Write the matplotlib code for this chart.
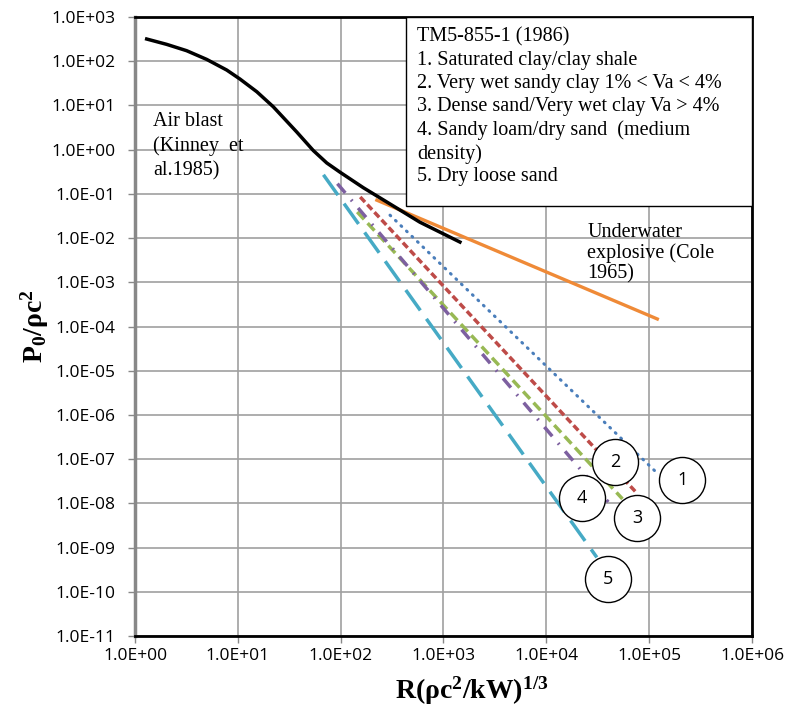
import numpy as np
import matplotlib
matplotlib.use('Agg')
from matplotlib import pyplot as plt
from matplotlib.patches import Rectangle

# 空气爆炸曲线 (Kinney et al. 1985)
air_R = [1.30, 2.03, 3.18, 4.98, 7.80, 10.5, 15.3, 22.1, 37.4, 54.2, 73.3, 98.6, 166, 380, 589, 1445]
air_P = [318, 241, 173, 110, 63.2, 39.5, 20.4, 9.35, 2.51, 0.955, 0.50, 0.309, 0.138, 0.0427, 0.0229, 0.00813]

# 水下爆炸 (Cole 1965)
water_R = [225, 1.2e5]
water_P = [0.072, 1.48e-4]

# TM5-855-1 (1986) 五类土
soil_names = ['1', '2', '3', '4', '5']
soil_R = [[302, 1.2e5], [155, 7.6e4], [145, 5.5e4], [93, 4.0e4], [68, 3.1e4]]
soil_P = [[0.033, 4.8e-8], [0.085, 1.7e-8], [0.039, 1.26e-8], [0.17, 1.07e-8], [0.27, 6.0e-10]]
# 圆圈编号位置
tag_R = [2.1e5, 4.7e4, 7.6e4, 2.2e4, 4.0e4]
tag_P = [3.4e-8, 8.5e-8, 4.7e-9, 1.3e-8, 1.9e-10]

legend_lines = ['TM5-855-1 (1986)',
                '1. Saturated clay/clay shale',
                '2. Very wet sandy clay 1% < Va < 4%',
                '3. Dense sand/Very wet clay Va > 4%',
                '4. Sandy loam/dry sand  (medium',
                'density)',
                '5. Dry loose sand']
legend_y = [0.9685, 0.929, 0.892, 0.855, 0.818, 0.779, 0.743]

x_ticks = [1e0, 1e1, 1e2, 1e3, 1e4, 1e5, 1e6]
y_ticks = [10.0 ** k for k in range(-11, 4)]

plt.rcParams['mathtext.fontset'] = 'custom'
plt.rcParams['mathtext.rm'] = 'Liberation Serif'
plt.rcParams['mathtext.bf'] = 'Liberation Serif:bold'

fig = plt.figure(figsize=(7.88, 7.15), dpi=100)
ax = fig.add_axes([0.1713, 0.1105, 0.7830, 0.8657])
ax.set_xscale('log')
ax.set_yscale('log')
ax.set_xlim(1, 1e6)
ax.set_ylim(1e-11, 1e3)

colors = ['#4a7ebb', '#be4b48', '#98b954', '#7d60a0', '#46aac5']
styles = [(0, (0.3, 2.2)), (0, (2.0, 1.0)), (0, (2.9, 1.5)), (0, (3.5, 2.6, 0.5, 2.6)), (0, (7.2, 3.0))]
widths = [2.2, 2.5, 2.5, 2.5, 2.5]
for i in range(5):
    ax.plot(soil_R[i], soil_P[i], color=colors[i], linestyle=styles[i], lw=widths[i],
            dash_capstyle='round' if i == 0 else 'butt', zorder=3)

ax.plot(water_R, water_P, color='#ef8a37', lw=2.4, zorder=4)
ax.plot(air_R, air_P, color='black', lw=2.5, zorder=5, solid_joinstyle='round')

# 圆圈编号
ax.scatter(tag_R, tag_P, s=1100, facecolor='white', edgecolor='black', lw=1, zorder=6)
for i in range(5):
    ax.text(tag_R[i], tag_P[i], soil_names[i], ha='center', va='center', fontsize=13,
            family='Open Sans', zorder=7)

ax.set_xticks(x_ticks)
ax.set_yticks(y_ticks)
ax.minorticks_off()
ax.set_xticklabels(['%.1E' % v for v in x_ticks], family='Open Sans', fontsize=12.5)
ax.set_yticklabels(['%.1E' % v for v in y_ticks], family='Open Sans', fontsize=12.5)
ax.tick_params(direction='out', length=5, color='#888888', width=1)
ax.tick_params(axis='x', pad=4)
ax.tick_params(axis='y', pad=9)
ax.grid(True, color='#a0a0a0', lw=1.2)
ax.set_axisbelow(True)

for side in ['top', 'bottom', 'right']:
    ax.spines[side].set_color('black')
    ax.spines[side].set_linewidth(2)
ax.spines['left'].set_color('#888888')
ax.spines['left'].set_linewidth(2.5)

ax.set_xlabel(r'$\mathbf{R(ρc^2/kW)^{1/3}}$', fontsize=20)
ax.xaxis.set_label_coords(0.546, -0.062)
ax.set_ylabel(r'$\mathbf{P_0/ρc^2}$', fontsize=20, labelpad=0)

# 说明框
ax.add_patch(Rectangle((0.439, 0.695), 0.561, 0.305, transform=ax.transAxes,
                       facecolor='white', edgecolor='black', lw=1, zorder=8))
for s, yy in zip(legend_lines, legend_y):
    ax.text(0.457, yy, s, transform=ax.transAxes, fontsize=14.5,
            family='Liberation Serif', va='center', zorder=9)

ax.text(0.029, 0.846, 'Air blast\n(Kinney  et\nal.1985)', transform=ax.transAxes,
        fontsize=14.5, family='Liberation Serif', va='top', linespacing=1.35)
ax.text(0.733, 0.668, 'Underwater\nexplosive (Cole\n1965)', transform=ax.transAxes,
        fontsize=14.5, family='Liberation Serif', va='top', linespacing=1.12)

plt.savefig('out.png', dpi=100)
